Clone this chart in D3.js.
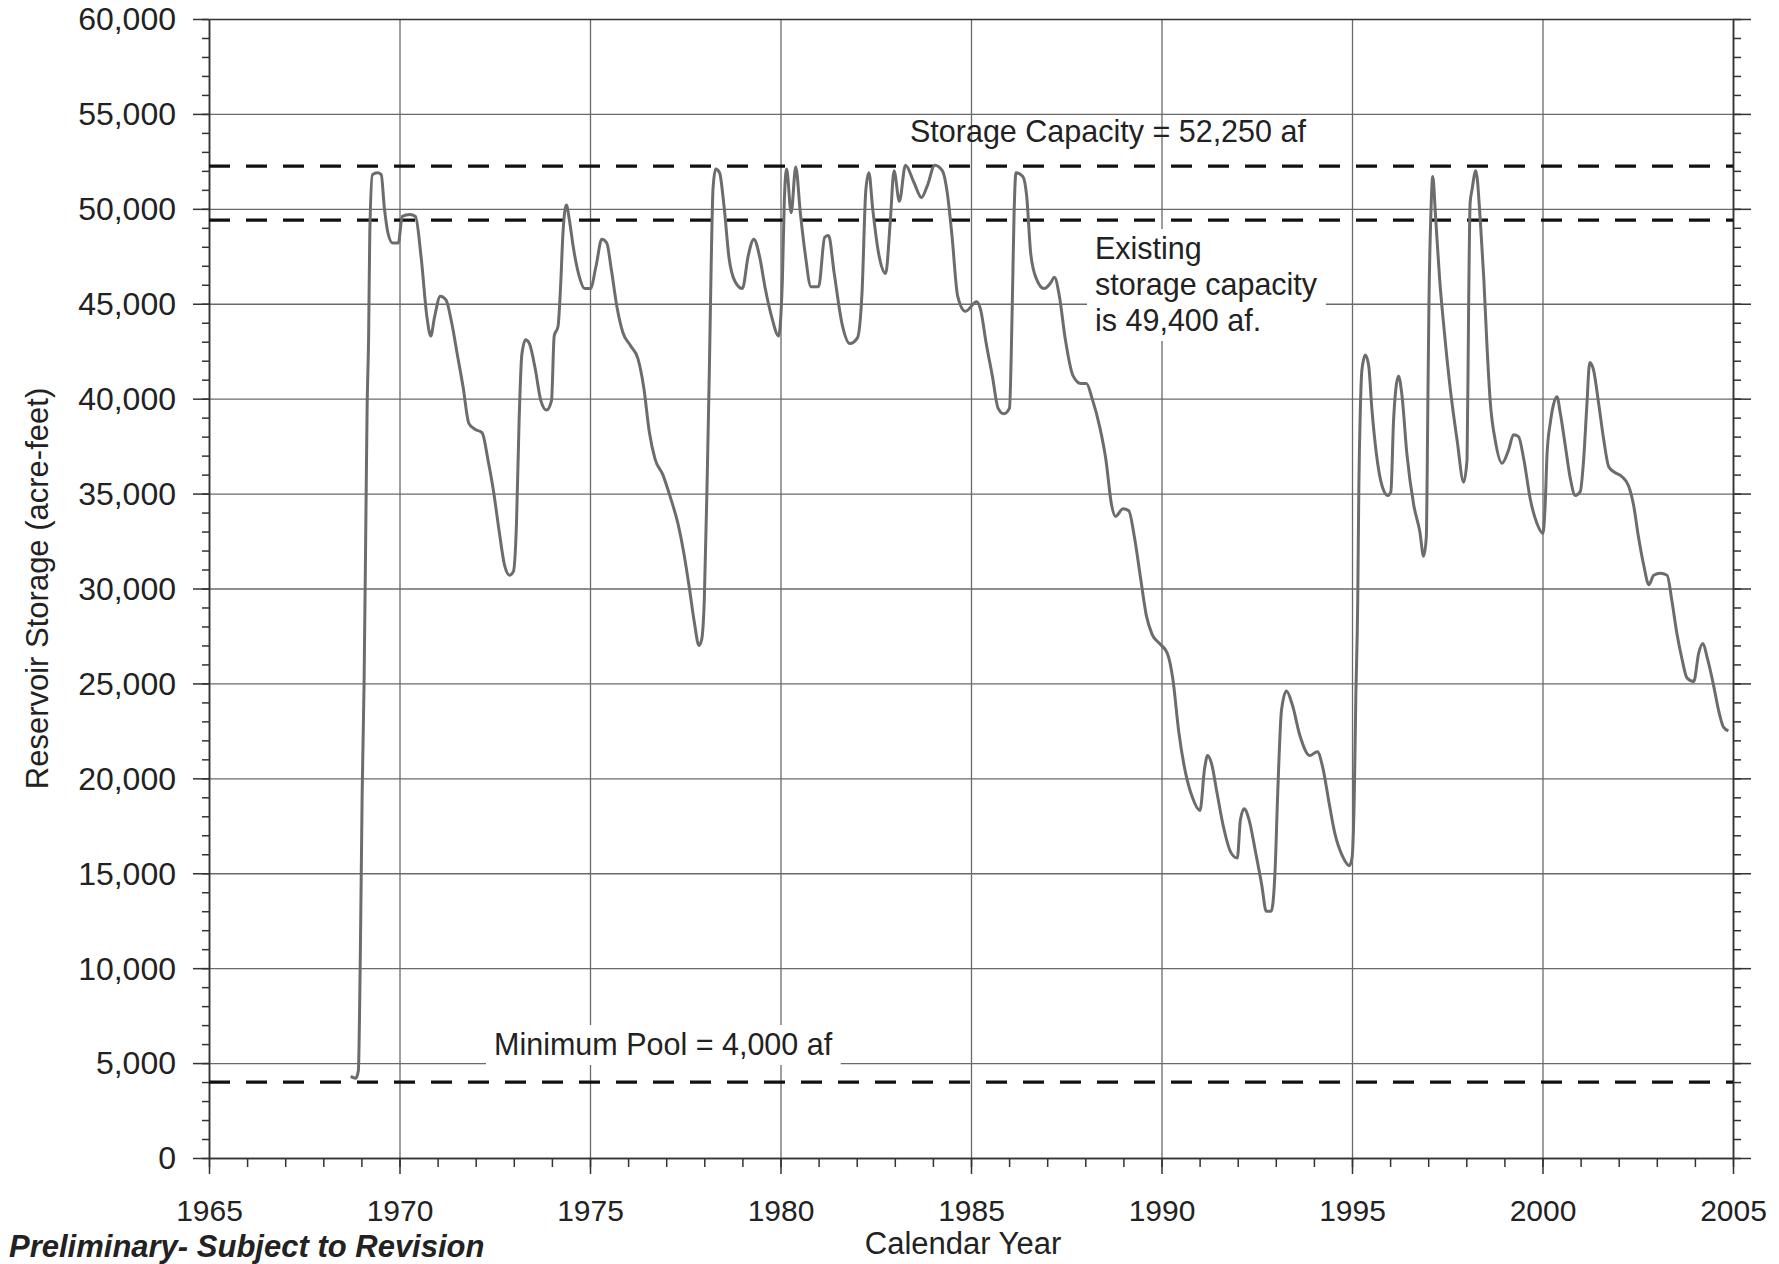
<!DOCTYPE html>
<html>
<head>
<meta charset="utf-8">
<title>Reservoir Storage</title>
<script src="https://d3js.org/d3.v7.min.js"></script>
<style>
body {
	margin: 0;
	background-color: white;
}
svg {
	display: block;
	font-family: "Liberation Sans", Arial, sans-serif;
}
.grid line {
	stroke: #6a6a6a;
	stroke-width: 1.3;
}
.grid .domain {
	display: none;
}
.axis path, .axis line {
	stroke: #333;
	stroke-width: 1.5;
}
.axis text {
	font-family: "Liberation Sans", Arial, sans-serif;
	font-size: 30px;
	fill: #222;
}
.yaxis text {
	font-size: 32px;
}
.ref {
	fill: none;
	stroke: #111;
	stroke-width: 3.2;
	stroke-dasharray: 21 16;
}
.storage {
	fill: none;
	stroke: #6c6c6c;
	stroke-width: 3;
	stroke-linejoin: round;
}
.note {
	font-size: 30.5px;
	fill: #222;
}
</style>
<script>
/* globals d3, window */
(function() {
"use strict";

// time (calendar year) and simulated reservoir storage (acre-feet)
const years = [
	1968.72, 1968.85, 1968.92, 1968.97, 1969.02, 1969.07, 1969.12, 1969.15, 1969.19, 1969.22,
	1969.29, 1969.42, 1969.52, 1969.60, 1969.70, 1969.82, 1969.97, 1970.07, 1970.27, 1970.42,
	1970.57, 1970.72, 1970.82, 1970.92, 1971.07, 1971.22, 1971.37, 1971.52, 1971.67, 1971.82,
	1971.97, 1972.17, 1972.32, 1972.47, 1972.61, 1972.76, 1972.89, 1972.99, 1973.07, 1973.14,
	1973.21, 1973.31, 1973.41, 1973.56, 1973.71, 1973.86, 1973.99, 1974.06, 1974.16, 1974.23,
	1974.29, 1974.38, 1974.46, 1974.56, 1974.71, 1974.86, 1975.01, 1975.16, 1975.31, 1975.44,
	1975.56, 1975.71, 1975.86, 1976.06, 1976.26, 1976.41, 1976.56, 1976.71, 1976.91, 1977.11,
	1977.31, 1977.46, 1977.61, 1977.74, 1977.86, 1977.93, 1978.00, 1978.08, 1978.13, 1978.18,
	1978.23, 1978.30, 1978.40, 1978.52, 1978.65, 1978.80, 1979.00, 1979.15, 1979.30, 1979.45,
	1979.60, 1979.77, 1979.95, 1980.05, 1980.10, 1980.16, 1980.28, 1980.40, 1980.52, 1980.65,
	1980.80, 1981.00, 1981.16, 1981.26, 1981.41, 1981.62, 1981.82, 1982.02, 1982.14, 1982.24,
	1982.32, 1982.42, 1982.58, 1982.76, 1982.88, 1982.98, 1983.12, 1983.28, 1983.50, 1983.70,
	1983.85, 1984.05, 1984.25, 1984.38, 1984.50, 1984.65, 1984.85, 1985.15, 1985.25, 1985.40,
	1985.56, 1985.71, 1985.86, 1986.01, 1986.08, 1986.13, 1986.18, 1986.36, 1986.46, 1986.57,
	1986.72, 1986.92, 1987.09, 1987.19, 1987.32, 1987.47, 1987.68, 1987.88, 1988.03, 1988.18,
	1988.38, 1988.54, 1988.69, 1988.79, 1988.99, 1989.14, 1989.29, 1989.44, 1989.60, 1989.75,
	1989.95, 1990.15, 1990.30, 1990.45, 1990.61, 1990.81, 1991.01, 1991.13, 1991.21, 1991.31,
	1991.46, 1991.62, 1991.82, 1991.99, 1992.07, 1992.17, 1992.30, 1992.47, 1992.63, 1992.75,
	1992.88, 1992.98, 1993.05, 1993.15, 1993.28, 1993.43, 1993.64, 1993.89, 1994.09, 1994.24,
	1994.39, 1994.55, 1994.75, 1994.93, 1995.00, 1995.06, 1995.10, 1995.15, 1995.18, 1995.22,
	1995.26, 1995.35, 1995.44, 1995.52, 1995.64, 1995.79, 1995.94, 1996.02, 1996.09, 1996.15,
	1996.22, 1996.31, 1996.44, 1996.62, 1996.78, 1996.88, 1996.95, 1996.99, 1997.02, 1997.07,
	1997.12, 1997.19, 1997.30, 1997.42, 1997.58, 1997.76, 1997.93, 1998.02, 1998.06, 1998.10,
	1998.15, 1998.25, 1998.37, 1998.46, 1998.54, 1998.63, 1998.76, 1998.94, 1999.11, 1999.24,
	1999.37, 1999.51, 1999.68, 1999.86, 2000.01, 2000.07, 2000.12, 2000.21, 2000.29, 2000.38,
	2000.47, 2000.60, 2000.73, 2000.86, 2000.99, 2001.08, 2001.16, 2001.24, 2001.34, 2001.47,
	2001.61, 2001.74, 2001.91, 2002.08, 2002.26, 2002.39, 2002.52, 2002.66, 2002.79, 2002.92,
	2003.09, 2003.27, 2003.40, 2003.53, 2003.66, 2003.79, 2003.97, 2004.10, 2004.21, 2004.33,
	2004.49, 2004.62, 2004.75, 2004.88
];
const storage = [
	4300, 4200, 4600, 10400, 19200, 25000, 34100, 39500, 43300, 48700,
	51800, 51900, 51800, 50100, 48700, 48200, 48200, 49600, 49700, 49600,
	47400, 44300, 43300, 44300, 45400, 45200, 44000, 42300, 40600, 38700,
	38400, 38200, 36800, 35100, 33100, 31200, 30700, 30900, 33400, 38900,
	42300, 43100, 42900, 41600, 39900, 39400, 39900, 43300, 43800, 46000,
	48700, 50200, 49400, 48000, 46500, 45800, 45800, 47000, 48400, 48200,
	46800, 44800, 43500, 42800, 42100, 40600, 38200, 36800, 36000, 34800,
	33400, 31900, 30000, 28200, 27000, 27300, 29400, 36200, 41200, 47000,
	51100, 52100, 51900, 50100, 47400, 46200, 45800, 47500, 48400, 47500,
	45800, 44300, 43300, 46300, 50400, 52100, 49800, 52200, 49800, 47600,
	45900, 45900, 48500, 48600, 46600, 43900, 42900, 43200, 45600, 51000,
	51900, 50000, 47600, 46600, 49300, 52000, 50400, 52300, 51400, 50600,
	51200, 52300, 52000, 50800, 48600, 45400, 44600, 45100, 44700, 42900,
	41200, 39500, 39200, 39500, 44600, 49700, 51900, 51700, 50700, 47600,
	46300, 45800, 46100, 46400, 45400, 43200, 41200, 40800, 40800, 40000,
	38500, 36800, 34400, 33800, 34200, 34100, 32700, 30700, 28600, 27600,
	27100, 26600, 25200, 22500, 20500, 19000, 18300, 20500, 21200, 20800,
	19200, 17500, 16100, 15800, 17800, 18400, 17800, 16100, 14400, 13000,
	13000, 15100, 19200, 23600, 24600, 23900, 22200, 21200, 21400, 20500,
	18800, 17100, 15900, 15400, 15800, 19100, 24200, 29300, 35400, 39500,
	41500, 42300, 41700, 39500, 37100, 35400, 34900, 35100, 38800, 40500,
	41200, 40200, 37100, 34400, 33000, 31700, 32700, 39500, 45100, 49700,
	51700, 49700, 46300, 43600, 40500, 37800, 35600, 36800, 44600, 50300,
	51000, 52000, 49300, 46300, 42900, 39800, 37800, 36600, 37300, 38100,
	38000, 36800, 34700, 33400, 32900, 34400, 37100, 38800, 39700, 40100,
	39200, 37500, 35800, 34900, 35100, 36800, 39500, 41900, 41500, 39800,
	37800, 36400, 36100, 35900, 35400, 34400, 32700, 31200, 30200, 30700,
	30800, 30700, 29300, 27600, 26300, 25300, 25100, 26600, 27100, 26300,
	24900, 23600, 22700, 22500
];

// horizontal reference levels (acre-feet)
const refLevels = [52250, 49400, 4000];

const xTicks = [1965, 1970, 1975, 1980, 1985, 1990, 1995, 2000, 2005];
const yTicks = [0, 5000, 10000, 15000, 20000, 25000, 30000, 35000, 40000, 45000, 50000, 55000, 60000];

function main()
{
	const W = 1779, H = 1264;
	const margin = {top: 19, right: 46, bottom: 106, left: 209};
	const width = W - margin.left - margin.right;
	const height = H - margin.top - margin.bottom;

	const x = d3.scaleLinear([1965, 2005], [0, width]);
	const y = d3.scaleLinear([0, 60000], [height, 0]);

	const svg = d3.select("#chart")
		.append("svg")
			.attr("width", W)
			.attr("height", H);

	svg.append("rect")
		.attr("width", W)
		.attr("height", H)
		.attr("fill", "white");

	const g = svg.append("g")
		.attr("transform", "translate(" + margin.left + "," + margin.top + ")");

	// grid
	g.append("g")
		.attr("class", "grid")
		.call(d3.axisLeft(y).tickValues(yTicks.slice(1, -1)).tickSize(-width).tickFormat(""));
	g.append("g")
		.attr("class", "grid")
		.attr("transform", "translate(0," + height + ")")
		.call(d3.axisBottom(x).tickValues(xTicks.slice(1, -1)).tickSize(-height).tickFormat(""));

	// frame top
	g.append("g")
		.attr("class", "axis")
		.call(d3.axisTop(x).tickValues([]).tickSizeOuter(0));

	// left axis, minor then major
	g.append("g")
		.attr("class", "axis")
		.call(d3.axisLeft(y).tickValues(d3.range(0, 60001, 1000)).tickSize(7).tickFormat("").tickSizeOuter(0));
	const gy = g.append("g")
		.attr("class", "axis yaxis")
		.call(d3.axisLeft(y).tickValues(yTicks).tickSize(16).tickPadding(17)
			.tickFormat(d3.format(",")).tickSizeOuter(0));
	gy.selectAll("text").attr("dy", "0.34em");

	// right axis
	g.append("g")
		.attr("class", "axis")
		.attr("transform", "translate(" + width + ",0)")
		.call(d3.axisRight(y).tickValues(d3.range(0, 60001, 1000)).tickSize(8).tickFormat("").tickSizeOuter(0));
	g.append("g")
		.attr("class", "axis")
		.attr("transform", "translate(" + width + ",0)")
		.call(d3.axisRight(y).tickValues(yTicks).tickSize(18).tickFormat("").tickSizeOuter(0));

	// bottom axis
	g.append("g")
		.attr("class", "axis")
		.attr("transform", "translate(0," + height + ")")
		.call(d3.axisBottom(x).tickValues(d3.range(1965, 2006, 1)).tickSize(9).tickFormat("").tickSizeOuter(0));
	g.append("g")
		.attr("class", "axis")
		.attr("transform", "translate(0," + height + ")")
		.call(d3.axisBottom(x).tickValues(xTicks).tickSize(16).tickPadding(26)
			.tickFormat(d3.format("d")).tickSizeOuter(0));

	// reference levels
	g.selectAll(".ref")
		.data(refLevels)
		.join("line")
		.attr("class", "ref")
		.attr("x1", 0)
		.attr("x2", width)
		.attr("y1", d => y(d))
		.attr("y2", d => y(d));

	// labels with white backing boxes
	const notes = [
		{lines: ["Storage Capacity = 52,250 af"], x: 701, y: 123, pad: 0},
		{lines: ["Existing", "storage capacity", "is 49,400 af."], x: 886, y: 240, pad: 8},
		{lines: ["Minimum Pool = 4,000 af"], x: 285, y: 1036, pad: 8}
	];
	for (const n of notes) {
		const ng = g.append("g");
		const rect = ng.append("rect").attr("fill", "white");
		const t = ng.append("text")
			.attr("class", "note")
			.attr("x", n.x)
			.attr("y", n.y);
		n.lines.forEach((s, i) => {
			t.append("tspan")
				.attr("x", n.x)
				.attr("dy", i === 0 ? 0 : 36)
				.text(s);
		});
		if (n.pad > 0) {
			const b = t.node().getBBox();
			rect.attr("x", b.x - n.pad)
				.attr("y", b.y - 2)
				.attr("width", b.width + 2 * n.pad)
				.attr("height", b.height + 6);
		}
	}

	// storage trace
	const pts = years.map((yr, i) => [yr, storage[i]]);
	g.append("path")
		.datum(pts)
		.attr("class", "storage")
		.attr("d", d3.line()
			.x(d => x(d[0]))
			.y(d => y(d[1]))
			.curve(d3.curveMonotoneX));

	// axis titles
	svg.append("text")
		.attr("transform", "translate(48," + (margin.top + height / 2) + ") rotate(-90)")
		.attr("text-anchor", "middle")
		.attr("font-size", 31)
		.attr("fill", "#222")
		.text("Reservoir Storage (acre-feet)");
	svg.append("text")
		.attr("x", margin.left + width / 2 - 8)
		.attr("y", 1254)
		.attr("text-anchor", "middle")
		.attr("font-size", 31)
		.attr("fill", "#222")
		.text("Calendar Year");
	svg.append("text")
		.attr("x", 9)
		.attr("y", 1257)
		.attr("font-size", 31)
		.attr("font-weight", "bold")
		.attr("font-style", "italic")
		.attr("fill", "#222")
		.text("Preliminary- Subject to Revision");
}
window.addEventListener("DOMContentLoaded", main);
})();
</script>
</head>
<body>
<div id="chart"></div>
</body>
</html>
